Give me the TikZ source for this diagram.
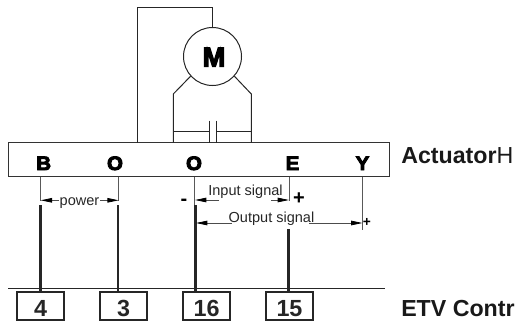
\documentclass[tikz,border=0pt]{standalone}
\usepackage{fontspec}
\setmainfont{Liberation Sans}
\newfontfamily\heavy[FakeBold=4.5]{Liberation Sans Bold}
\usetikzlibrary{arrows.meta}
\begin{document}
\begin{tikzpicture}[x=0.75pt,y=-0.75pt,
  wire/.style={draw=black!85,line width=0.75pt},
  thin wire/.style={draw=black!65,line width=0.6pt},
  thick wire/.style={draw=black!85,line width=2pt},
  dim/.style={draw=black!70,line width=0.6pt,-{Triangle[length=8.5pt,width=3.4pt,black]}},
  pin/.style={draw=black!85,line width=1.5pt,minimum width=35.5pt,minimum height=21.5pt,inner sep=0pt,text=black!85},
  pin text/.style={font=\fontsize{17.5}{18}\selectfont\bfseries,inner sep=0pt,text=black!85,anchor=base},
  letter/.style={font=\fontsize{14.6}{15}\selectfont\heavy,inner sep=0pt,xscale=1.05,anchor=base},
  small/.style={font=\fontsize{10.9}{11}\selectfont,inner sep=0pt,text=black!85,anchor=base},
  sign/.style={font=\fontsize{15}{15}\selectfont\bfseries,inner sep=0pt},
  side/.style={font=\fontsize{17.4}{18}\selectfont,inner sep=0pt,anchor=base west,text=black!90}]
\useasboundingbox (0,0) rectangle (518,322);
% actuator bar and motor
\node[draw=black!80,line width=0.75pt,minimum width=285.7pt,minimum height=25.5pt,inner sep=0pt] (bar) at (198.8,159.7) {};
\node[circle,draw=black!85,line width=0.75pt,minimum size=43.5pt,inner sep=0pt] (motor) at (212.5,56.5) {};
\node[font=\fontsize{20.5}{20}\selectfont\heavy,inner sep=0pt,anchor=base] (mlabel) at (214,66.5) {M};
\coordinate (t1) at (137,7.3);
\coordinate (t2) at (212.5,7.3);
\coordinate (b0) at (137,142.7);
\draw[wire] (b0) -- (t1) -- (t2) -- (motor.north);
\coordinate (l1) at (173.3,94);
\coordinate (l2) at (173.3,142.7);
\coordinate (r1) at (251.3,94);
\coordinate (r2) at (251.3,142.7);
\draw[wire] (motor.222) -- (l1) -- (l2);
\draw[wire] (motor.-42) -- (r1) -- (r2);
\coordinate (c1t) at (209.3,120.7); \coordinate (c1b) at (209.3,142.7);
\coordinate (c2t) at (216,120.7); \coordinate (c2b) at (216,142.7);
\coordinate (la) at (173.3,131); \coordinate (lb) at (209.3,131);
\coordinate (ra) at (251.3,131); \coordinate (rb) at (216,131);
\draw[wire] (c1t) -- (c1b);
\draw[wire] (c2t) -- (c2b);
\draw[wire] (la) -- (lb);
\draw[wire] (ra) -- (rb);
% letters
\node[letter] (B) at (43.7,170) {B};
\node[letter] (O1) at (115,170) {O};
\node[letter] (O2) at (194,170) {O};
\node[letter] (E) at (292.5,170) {E};
\node[letter] (Y) at (362.5,170) {Y};
% controller line and pins
\coordinate (g1) at (8,288);
\coordinate (g2) at (385,288);
\draw[wire] (g1) -- (g2);
\node[pin] (p4) at (40.5,306) {};
\node[pin] (p3) at (123.5,306) {};
\node[pin] (p16) at (206.5,306) {};
\node[pin] (p15) at (289.5,306) {};
\node[pin text] (p4t) at (40.5,316) {4};
\node[pin text] (p3t) at (123.5,316) {3};
\node[pin text] (p16t) at (206.7,316) {16};
\node[pin text] (p15t) at (289.5,316) {15};
% thin leads
\coordinate (tb) at (40.7,177); \coordinate (tbe) at (40.7,201);
\coordinate (to) at (118.7,177); \coordinate (toe) at (118.7,201);
\coordinate (ti) at (194.5,177); \coordinate (tie) at (194.5,205);
\coordinate (te) at (289,177); \coordinate (tee) at (289,201);
\coordinate (ty) at (362,177); \coordinate (tye) at (362,230);
\draw[thin wire] (tb) -- (tbe);
\draw[thin wire] (to) -- (toe);
\draw[thin wire] (ti) -- (tie);
\draw[thin wire] (te) -- (tee);
\draw[thin wire] (ty) -- (tye);
% thick leads
\coordinate (h4) at (40.7,205); \coordinate (h4b) at (40.7,291);
\coordinate (h3) at (118,205); \coordinate (h3b) at (118,291);
\coordinate (h16) at (195.4,205); \coordinate (h16b) at (195.4,291);
\coordinate (h15) at (288.7,229); \coordinate (h15b) at (288.7,291);
\draw[thick wire] (h4) -- (h4b);
\draw[thick wire] (h3) -- (h3b);
\draw[thick wire] (h16) -- (h16b);
\draw[thick wire] (h15) -- (h15b);
% dimension labels and arrows
\node[small] (power) at (79.5,205) {power};
\coordinate (pw) at (59,200.3); \coordinate (pe) at (100,200.3);
\draw[dim] (pw) -- (tbe |- pw);
\draw[dim] (pe) -- (toe |- pe);
\node[small] (input) at (245.5,195) {Input signal};
\coordinate (ia) at (219,200); \coordinate (ib) at (195,200);
\coordinate (ic) at (271,200); \coordinate (id) at (289,200);
\draw[dim] (ia) -- (ib);
\draw[dim] (ic) -- (id);
\node[small] (output) at (271.5,222) {Output signal};
\coordinate (oa) at (232,223); \coordinate (ob) at (196,223);
\coordinate (oc) at (309,223); \coordinate (od) at (362.5,223);
\draw[dim] (oa) -- (ob);
\draw[dim] (oc) -- (od);
\node[sign] (minus) at (184,202) {-};
\node[sign] (plus) at (299,199) {+};
\node[font=\fontsize{10.3}{10}\selectfont\bfseries,inner sep=0pt] (plus2) at (367,222) {+};
% side labels
\node[side] (act) at (401,163) {\textbf{Actuator}H};
\node[side] (etv) at (401,316) {\textbf{ETV Contr}};
\end{tikzpicture}
\end{document}
